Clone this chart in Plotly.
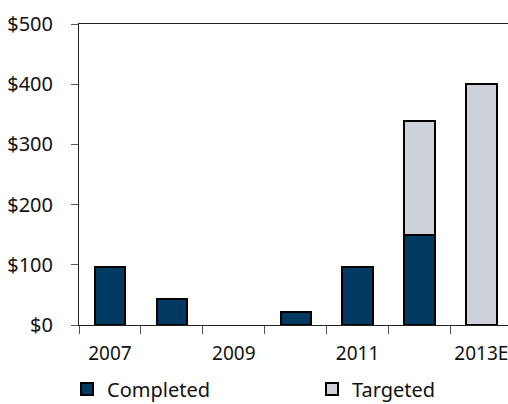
import plotly.graph_objects as go

CATEGORIES = ["2007", "2008", "2009", "2010", "2011", "2012", "2013E"]
TICK_LABELS = ["2007", "", "2009", "", "2011", "", "2013E"]
COMPLETED = [97, 44, None, 22, 96, 150, None]
TARGETED = [None, None, None, None, None, 189, 400]
Y_TICKS = [0, 100, 200, 300, 400, 500]
Y_TICK_LABELS = ["$0", "$100", "$200", "$300", "$400", "$500"]

FONT = "Noto Sans, sans-serif"
NAVY = "#003A63"
GREY = "#CDD1D8"

fig = go.Figure()
fig.add_trace(go.Bar(x=CATEGORIES, y=COMPLETED, name="Completed", width=0.49,
                     marker=dict(color=NAVY, line=dict(color="#000000", width=2))))
fig.add_trace(go.Bar(x=CATEGORIES, y=TARGETED, name="Targeted", width=0.49,
                     marker=dict(color=GREY, line=dict(color="#000000", width=2))))

fig.update_layout(
    width=508, height=404,
    margin=dict(l=79, r=0, t=24, b=79, autoexpand=False),
    barmode="stack",
    plot_bgcolor="white", paper_bgcolor="white",
    font=dict(family=FONT, size=20, color="#111111"),
    showlegend=True,
    legend=dict(orientation="h", x=-0.028, xanchor="left", y=-0.148, yanchor="top",
                entrywidth=200, entrywidthmode="pixels",
                font=dict(family=FONT, size=20, color="#111111"),
                traceorder="normal", bgcolor="rgba(0,0,0,0)"),
    xaxis=dict(type="category", tickmode="array", tickvals=CATEGORIES, ticktext=TICK_LABELS,
               range=[-0.5, 6.43], tickson="boundaries", ticks="outside", ticklen=8,
               tickcolor="#555555", tickwidth=1, showline=True, linecolor="#222222",
               linewidth=1, mirror=True, showgrid=False, zeroline=False,
               tickangle=0, automargin=False, ticklabelstandoff=11,
               tickfont=dict(family=FONT, size=19, color="#111111")),
    yaxis=dict(range=[0, 500], tickmode="array", tickvals=Y_TICKS, ticktext=Y_TICK_LABELS,
               ticks="outside", ticklen=7, tickcolor="#555555", tickwidth=1,
               showline=True, linecolor="#222222", linewidth=1, showgrid=False,
               zeroline=False, automargin=False, ticklabelstandoff=14),
)

fig.write_html("out.html")
